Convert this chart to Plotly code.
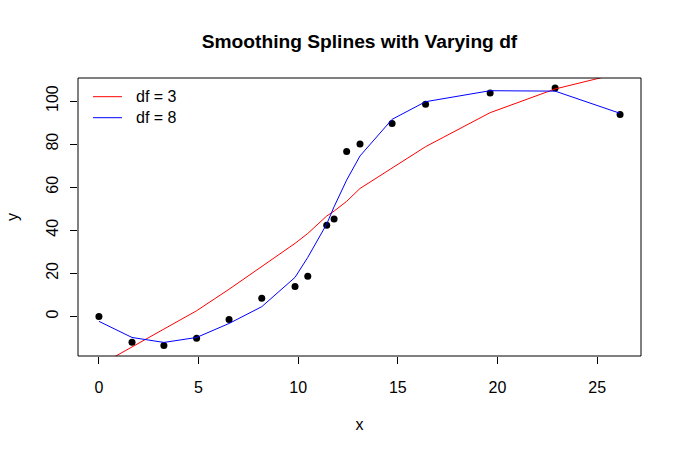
import plotly.graph_objects as go

x = [0, 1.66, 3.26, 4.9, 6.53, 8.17, 9.84, 10.48, 11.43, 11.8, 12.43, 13.1,
     14.71, 16.39, 19.63, 22.89, 26.15]
y = [0, -12.0, -13.5, -10.2, -1.4, 8.4, 13.9, 18.6, 42.3, 45.2, 76.6, 80.0,
     89.6, 98.5, 103.7, 106.0, 93.8]
fit_df3 = [-22.8, -14.2, -5.8, 2.6, 12.6, 23.0, 33.9, 38.5, 46.6, 48.9, 53.4,
           59.4, 68.7, 78.8, 94.6, 105.6, 113.0]
fit_df8 = [-2.3, -9.8, -12.1, -9.8, -3.3, 4.5, 18.1, 27.4, 42.9, 50.9, 63.3,
           74.5, 91.5, 99.7, 104.8, 104.6, 94.3]

x_ticks = [0, 5, 10, 15, 20, 25]
y_ticks = [0, 20, 40, 60, 80, 100]
legend_labels = ["df = 3", "df = 8"]
legend_colors = ["#FF0000", "#0000FF"]

FONT = "Liberation Sans, Arial, sans-serif"
W, H = 682, 454
ML, MR, MT, MB = 78, 41, 78, 98
PW, PH = W - ML - MR, H - MT - MB


def px_x(p):
    return (p - ML) / PW


def px_y(p):
    return (H - MB - p) / PH


fig = go.Figure()
fig.add_trace(go.Scatter(x=x, y=y, mode="markers", showlegend=False,
                         marker=dict(color="black", size=7)))
fig.add_trace(go.Scatter(x=x, y=fit_df3, mode="lines", name=legend_labels[0],
                         showlegend=False,
                         line=dict(color=legend_colors[0], width=1)))
fig.add_trace(go.Scatter(x=x, y=fit_df8, mode="lines", name=legend_labels[1],
                         showlegend=False,
                         line=dict(color=legend_colors[1], width=1)))

shapes = [dict(type="rect", xref="paper", yref="paper", x0=0, y0=0, x1=1, y1=1,
               line=dict(color="black", width=1), fillcolor="rgba(0,0,0,0)",
               layer="above")]
annotations = []
for i, (lab, col) in enumerate(zip(legend_labels, legend_colors)):
    yy = px_y(96.7 + 21 * i)
    shapes.append(dict(type="line", xref="paper", yref="paper",
                       x0=px_x(93), x1=px_x(122), y0=yy, y1=yy,
                       line=dict(color=col, width=1)))
    annotations.append(dict(text=lab, xref="paper", yref="paper",
                            x=px_x(136), y=yy, xanchor="left", yanchor="middle",
                            showarrow=False, font=dict(size=16, family=FONT),
                            xshift=-2))

fig.update_layout(
    width=W, height=H,
    margin=dict(l=ML, r=MR, t=MT, b=MB),
    paper_bgcolor="white", plot_bgcolor="white",
    font=dict(family=FONT, size=16, color="black"),
    title=dict(text="<b>Smoothing Splines with Varying df</b>",
               x=(ML + ML + PW) / 2 / W, xanchor="center",
               y=1 - 41 / H, yanchor="middle",
               font=dict(size=19.2, family=FONT, color="black")),
    showlegend=False,
    shapes=shapes,
    annotations=annotations,
)
fig.update_xaxes(range=[-1.05, 27.2], tickvals=x_ticks, ticks="outside",
                 ticklen=7, tickcolor="black", showgrid=False, zeroline=False,
                 showline=False, ticklabelstandoff=10,
                 title=dict(text="x", standoff=23, font=dict(size=16)),
                 tickfont=dict(size=16))
fig.update_yaxes(range=[-18.4, 110.7], tickvals=y_ticks, ticks="outside",
                 ticklen=7, tickcolor="black", showgrid=False, zeroline=False,
                 showline=False, tickangle=-90, ticklabelstandoff=6,
                 title=dict(text="y", standoff=20, font=dict(size=16)),
                 tickfont=dict(size=16))

fig.write_html("out.html", config={"displayModeBar": False},
               post_script="document.body.style.margin='0px';")
